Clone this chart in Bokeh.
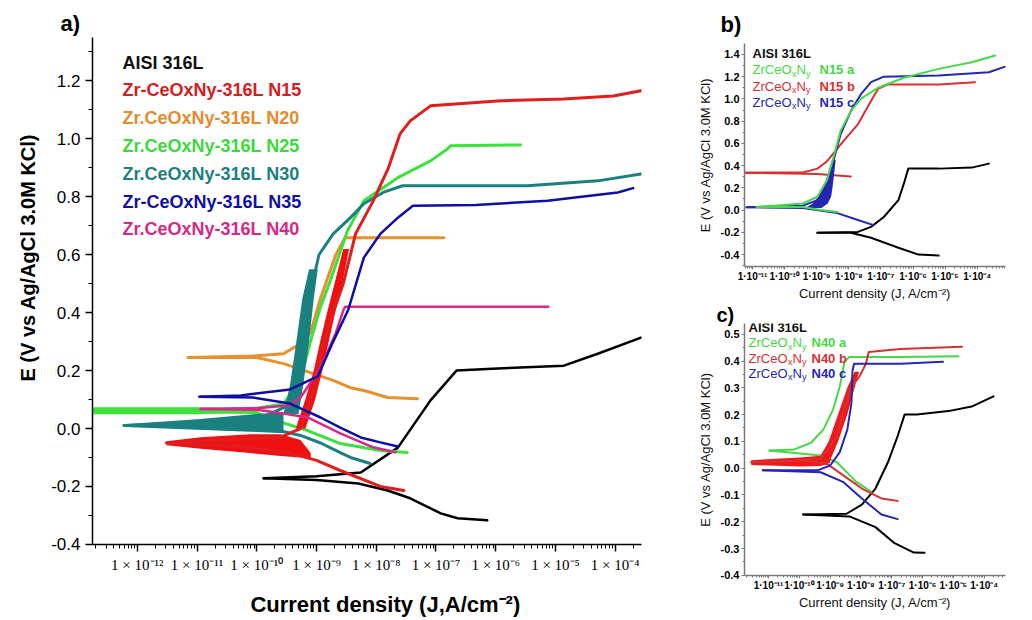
from bokeh.plotting import figure
from bokeh.models import Label, Title, Range1d, FixedTicker, SingleIntervalTicker, PrintfTickFormatter, CustomJSTickFormatter
from bokeh.layouts import row, column
from bokeh.embed import file_html
from bokeh.resources import INLINE

# ---------------- Panel a data (J in A/cm2, E in V) ----------------
a_316_cat_J = [1.3e-10, 1.0e-9, 5.0e-9, 1.55e-8, 3.7e-8, 1.2e-7, 2.3e-7, 7.2e-7]
a_316_cat_E = [-0.172, -0.178, -0.19, -0.214, -0.241, -0.293, -0.31, -0.317]
a_316_an_J = [1.3e-10, 1.0e-9, 5.5e-9, 2.3e-8, 8.1e-8, 2.2e-7, 1.07e-6, 1.38e-5, 5.1e-5, 2.7e-4]
a_316_an_E = [-0.172, -0.165, -0.152, -0.066, 0.097, 0.2, 0.207, 0.217, 0.258, 0.314]

a_n15_cat_J = [3.1e-12, 1.15e-11, 7.8e-11, 3.6e-10, 1.0e-9, 2.5e-9, 1.17e-8, 2.9e-8]
a_n15_cat_E = [-0.05, -0.055, -0.065, -0.085, -0.11, -0.145, -0.2, -0.214]
a_n15_an_J = [3.1e-12, 7.8e-11, 2.5e-10, 5.4e-10, 8.1e-10, 1.07e-9, 1.35e-9, 1.9e-9, 2.8e-9, 3.7e-9,
              4.5e-9, 8.9e-9, 1.6e-8, 2.5e-8, 3.7e-8, 8.1e-8, 1.07e-6, 1.38e-5, 9.3e-5, 2.7e-4]
a_n15_an_E = [-0.05, -0.035, -0.03, 0.0, 0.1, 0.2, 0.3, 0.4, 0.5, 0.6,
              0.672, 0.786, 0.9, 1.017, 1.062, 1.114, 1.131, 1.138, 1.148, 1.166]
a_n15_band_J = [3.1e-12, 1.15e-11, 7.8e-11, 2.5e-10, 5.4e-10, 8.0e-10]
a_n15_band_lo = [-0.058, -0.07, -0.085, -0.095, -0.1, -0.105]
a_n15_band_hi = [-0.044, -0.03, -0.02, -0.02, -0.04, -0.085]
a_n15_rise_E = [0.0, 0.1, 0.2, 0.3, 0.4, 0.5, 0.62]
a_n15_rise_left = [4.5e-10, 6.5e-10, 9.0e-10, 1.15e-9, 1.5e-9, 2.0e-9, 2.8e-9]
a_n15_rise_right = [6.5e-10, 9.5e-10, 1.25e-9, 1.6e-9, 2.05e-9, 2.7e-9, 3.5e-9]

a_n20_cat_J = [7.1e-12, 1.0e-10, 2.8e-10, 7.9e-10, 1.9e-9, 3.7e-9, 6.2e-9, 1.55e-8, 4.9e-8]
a_n20_cat_E = [0.245, 0.245, 0.224, 0.193, 0.166, 0.141, 0.131, 0.107, 0.103]
a_n20_an_J = [7.1e-12, 8.7e-11, 2.8e-10, 5.4e-10, 7.9e-10, 1.17e-9, 2.1e-9, 3.0e-9, 1.35e-7]
a_n20_an_E = [0.245, 0.25, 0.258, 0.293, 0.33, 0.45, 0.6, 0.659, 0.659]

a_n25_cat_J = [1.82e-13, 1.0e-10, 1.9e-10, 7.1e-10, 2.5e-9, 1.17e-8, 3.3e-8]
a_n25_cat_E = [0.06, 0.055, 0.03, -0.007, -0.052, -0.076, -0.083]
a_n25_an_J = [1.82e-13, 1.0e-10, 2.8e-10, 5.4e-10, 7.9e-10, 1.17e-9, 1.7e-9, 3.3e-9, 6.2e-9,
              2.3e-8, 8.1e-8, 1.55e-7, 1.74e-7, 2.6e-6]
a_n25_an_E = [0.06, 0.07, 0.085, 0.17, 0.3, 0.42, 0.51, 0.683, 0.786,
              0.866, 0.924, 0.965, 0.976, 0.979]
a_n25_band_J = [1.82e-13, 1.0e-11, 3.0e-11, 1.0e-10]
a_n25_band_lo = [0.049, 0.049, 0.053, 0.06]
a_n25_band_hi = [0.073, 0.073, 0.071, 0.068]

a_n30_cat_J = [6.0e-13, 1.0e-10, 1.7e-10, 5.4e-10, 1.17e-9, 2.5e-9, 3.7e-9, 7.9e-9]
a_n30_cat_E = [0.01, 0.01, 0.0, -0.024, -0.05, -0.083, -0.1, -0.121]
a_n30_an_J = [6.0e-13, 1.0e-10, 3.4e-10, 4.5e-10, 5.7e-10, 7.5e-10, 1.1e-9, 1.9e-9, 3.7e-9, 6.2e-9,
              1.3e-8, 2.75e-8, 3.4e-6, 5.1e-5, 2.7e-4]
a_n30_an_E = [0.01, 0.03, 0.08, 0.15, 0.3, 0.45, 0.6, 0.672, 0.728, 0.776,
              0.815, 0.838, 0.838, 0.855, 0.879]
a_n30_band_J = [6.0e-13, 1.0e-11, 1.0e-10, 2.8e-10]
a_n30_band_lo = [0.005, -0.004, -0.012, -0.016]
a_n30_band_hi = [0.015, 0.032, 0.05, 0.056]
a_n30_rise_E = [0.05, 0.15, 0.3, 0.45, 0.55]
a_n30_rise_left = [2.8e-10, 3.6e-10, 4.6e-10, 5.8e-10, 7.5e-10]
a_n30_rise_right = [5.0e-10, 6.0e-10, 7.5e-10, 9.0e-10, 1.05e-9]

a_n35_cat_J = [1.1e-11, 8.7e-11, 3.6e-10, 1.17e-9, 2.5e-9, 5.5e-9, 1.17e-8, 2.3e-8]
a_n35_cat_E = [0.11, 0.107, 0.086, 0.038, 0.003, -0.031, -0.048, -0.062]
a_n35_an_J = [1.1e-11, 5.4e-11, 3.6e-10, 1.05e-9, 1.9e-9, 3.4e-9, 6.2e-9, 1.17e-8, 2.3e-8, 4.1e-8,
              4.6e-7, 7.4e-6, 1.1e-4, 2.0e-4]
a_n35_an_E = [0.11, 0.114, 0.135, 0.18, 0.3, 0.41, 0.59, 0.672, 0.728, 0.769,
              0.772, 0.786, 0.815, 0.83]

a_n40_cat_J = [1.15e-11, 1.0e-10, 2.8e-10, 7.1e-10, 2.5e-9, 8.9e-9, 2.1e-8]
a_n40_cat_E = [0.067, 0.065, 0.052, 0.038, -0.017, -0.065, -0.082]
a_n40_an_J = [1.15e-11, 1.0e-10, 3.6e-10, 5.4e-10, 1.17e-9, 2.1e-9, 2.8e-9, 3.0e-9, 7.6e-6]
a_n40_an_E = [0.067, 0.07, 0.08, 0.107, 0.21, 0.33, 0.407, 0.42, 0.42]

a_legend = ["AISI 316L", "Zr-CeOxNy-316L N15", "Zr.CeOxNy-316L N20", "Zr.CeOxNy-316L N25",
            "Zr.CeOxNy-316L N30", "Zr-CeOxNy-316L N35", "Zr.CeOxNy-316L N40"]

# ---------------- Panel b data ----------------
b_316_cat_J = [1.05e-9, 1.15e-8, 4.9e-8, 3.5e-7, 1.48e-6, 6.3e-6]
b_316_cat_E = [-0.204, -0.204, -0.249, -0.338, -0.4, -0.409]
b_316_an_J = [1.05e-9, 1.9e-8, 4.9e-8, 1.23e-7, 3.5e-7, 5.2e-7, 7.1e-7, 6.3e-6, 6.8e-5, 2.3e-4]
b_316_an_E = [-0.204, -0.196, -0.151, -0.062, 0.089, 0.24, 0.373, 0.373, 0.382, 0.418]

b_a_cat_J = [1.35e-11, 3.7e-10, 1.3e-9, 4.4e-9]
b_a_cat_E = [0.027, 0.027, 0.0, -0.018]
b_a_an_J = [1.35e-11, 3.7e-10, 1.05e-9, 2.1e-9, 3.3e-9, 5.5e-9, 1.15e-8, 2.35e-8, 8.1e-8, 5.2e-7,
            6.3e-6, 6.8e-5, 3.6e-4]
b_a_an_E = [0.027, 0.06, 0.12, 0.27, 0.47, 0.71, 0.89, 1.0, 1.1, 1.19, 1.27, 1.33, 1.39]

b_b_cat_J = [5.6e-12, 1.05e-9, 1.15e-8]
b_b_cat_E = [0.337, 0.325, 0.302]
b_b_an_J = [5.6e-12, 3.7e-10, 1.05e-9, 2.1e-9, 6.8e-9, 1.9e-8, 4.9e-8, 8.1e-8, 1.66e-7, 6.3e-6, 8.5e-5]
b_b_an_E = [0.337, 0.338, 0.373, 0.44, 0.62, 0.77, 0.98, 1.09, 1.13, 1.13, 1.15]

b_c_cat_J = [6.5e-12, 3.7e-10, 4.4e-9, 1.9e-8, 5.6e-8]
b_c_cat_E = [0.025, 0.018, -0.027, -0.089, -0.133]
b_c_an_J = [6.5e-12, 3.7e-10, 1.05e-9, 2.1e-9, 3.3e-9, 5.5e-9, 1.15e-8, 2.35e-8, 4.9e-8, 1.23e-7,
            6.3e-6, 2.3e-4, 7.4e-4]
b_c_an_E = [0.025, 0.04, 0.09, 0.2, 0.44, 0.68, 0.89, 1.04, 1.15, 1.2, 1.21, 1.24, 1.29]
b_c_noise_E = [0.02, 0.06, 0.12, 0.2, 0.3, 0.45]
b_c_noise_left = [4.5e-10, 7.5e-10, 1.1e-9, 1.6e-9, 2.1e-9, 3.0e-9]
b_c_noise_right = [1.4e-9, 2.2e-9, 2.8e-9, 3.1e-9, 3.4e-9, 3.9e-9]

b_tags = ["N15 a", "N15 b", "N15 c"]

# ---------------- Panel c data ----------------
c_316_cat_J = [1.33e-10, 4.2e-9, 2.95e-8, 1.23e-7, 5.2e-7, 1.15e-6]
c_316_cat_E = [-0.173, -0.18, -0.22, -0.28, -0.315, -0.316]
c_316_an_J = [1.33e-10, 3.4e-9, 1.07e-8, 2.95e-8, 7.5e-8, 1.55e-7, 2.6e-7, 6.5e-7, 6.9e-6, 3.9e-5, 2.0e-4]
c_316_an_E = [-0.173, -0.17, -0.136, -0.076, 0.022, 0.12, 0.2, 0.2, 0.213, 0.23, 0.268]

c_a_cat_J = [1.07e-11, 4.9e-10, 1.66e-9, 6.9e-9, 2.2e-8]
c_a_cat_E = [0.066, 0.047, 0.022, -0.05, -0.088]
c_a_an_J = [1.07e-11, 6.9e-11, 2.4e-10, 6.0e-10, 1.23e-9, 2.05e-9, 2.9e-9, 4.2e-9, 1.9e-7, 1.44e-5]
c_a_an_E = [0.066, 0.07, 0.095, 0.144, 0.217, 0.305, 0.397, 0.415, 0.415, 0.418]

c_b_cat_J = [2.75e-12, 1.45e-10, 8.1e-10, 2.6e-9, 1.07e-8, 4.6e-8, 1.55e-7]
c_b_cat_E = [0.022, 0.029, 0.015, -0.026, -0.076, -0.113, -0.122]
c_b_an_J = [2.75e-12, 4.9e-10, 8.1e-10, 1.66e-9, 2.6e-9, 4.9e-9, 8.7e-9, 1.45e-8, 1.78e-8, 1.9e-7, 1.9e-5]
c_b_an_E = [0.022, 0.033, 0.07, 0.12, 0.206, 0.305, 0.34, 0.39, 0.434, 0.445, 0.453]
c_b_band_J = [2.75e-12, 1.0e-10, 5.0e-10, 1.0e-9]
c_b_band_lo = [0.012, 0.006, 0.008, 0.02]
c_b_band_hi = [0.03, 0.04, 0.046, 0.055]
c_b_rise_E = [0.03, 0.1, 0.2, 0.3, 0.36]
c_b_rise_left = [4.0e-10, 9.0e-10, 1.8e-9, 3.6e-9, 6.2e-9]
c_b_rise_right = [1.0e-9, 1.8e-9, 3.6e-9, 6.2e-9, 8.7e-9]

c_c_cat_J = [6.5e-12, 4.9e-10, 2.6e-9, 1.07e-8, 4.6e-8, 1.55e-7]
c_c_cat_E = [-0.008, -0.015, -0.051, -0.113, -0.173, -0.19]
c_c_an_J = [6.5e-12, 3.9e-10, 1.0e-9, 2.05e-9, 3.6e-9, 4.9e-9, 5.3e-9, 6.0e-9, 1.9e-7, 4.6e-6]
c_c_an_E = [-0.008, -0.008, 0.01, 0.06, 0.144, 0.243, 0.364, 0.39, 0.39, 0.397]

c_tags = ["N40 a", "N40 b", "N40 c"]

# ---------------- styling ----------------
SANS = "Liberation Sans"
A_COL = {"316": "#000000", "n15": "#e11d1d", "n20": "#e8902e", "n25": "#3ee03e",
         "n30": "#1a8080", "n35": "#0e0ea6", "n40": "#d8298a"}
A_LEG_COL = ["#111111", "#d42020", "#e58a2e", "#3cd83c", "#1e7f7f", "#1010a8", "#d42a86"]
BC_GREEN, BC_RED, BC_BLUE = "#46d846", "#d63030", "#2626b4"

SUP = ("const s={'-':'\u207b','0':'\u2070','1':'\u00b9','2':'\u00b2','3':'\u00b3','4':'\u2074',"
       "'5':'\u2075','6':'\u2076','7':'\u2077','8':'\u2078','9':'\u2079'};"
       "const e=String(Math.round(Math.log10(tick)));let o='';for(const c of e){o+=s[c];}")


def decade_ticker(lo, hi):
    majors = [10.0 ** k for k in range(lo, hi + 1)]
    minors = [m * 10.0 ** k for k in range(lo - 1, hi + 1) for m in range(2, 10)]
    return FixedTicker(ticks=majors, minor_ticks=minors)


def make_fig(w, h, x0, x1, y0, y1, bl, br, bt, bb):
    p = figure(width=w, height=h, x_axis_type="log",
               x_range=Range1d(10 ** x0, 10 ** x1), y_range=Range1d(y0, y1),
               output_backend="svg", toolbar_location=None, title=None,
               min_border_left=bl, min_border_right=br, min_border_top=bt, min_border_bottom=bb)
    p.grid.visible = False
    p.outline_line_color = None
    p.background_fill_color = "white"
    p.border_fill_color = "white"
    return p


def panel_tag(p, text, offset, size="22px", standoff=4):
    p.add_layout(Title(text=text, align="left", offset=offset, text_font=SANS,
                       text_font_size=size, text_font_style="bold", text_color="black",
                       standoff=standoff), "above")


def lab(p, frame, X, Y, text, size, color, bold=False, align="left"):
    p.add_layout(Label(x=X - frame[0], y=frame[1] - Y, x_units="screen", y_units="screen",
                       text=text, text_font=SANS, text_font_size=f"{size}px", text_color=color,
                       text_font_style="bold" if bold else "normal", text_align=align,
                       text_baseline="middle"))


def curve(p, cJ, cE, aJ, aE, color, w):
    p.line(cJ, cE, line_color=color, line_width=w, line_join="round", line_cap="round")
    p.line(aJ, aE, line_color=color, line_width=w, line_join="round", line_cap="round")


# ================= Panel a =================
FA = (92, 544)
pa = make_fig(665, 620, -12.75, -3.56, -0.4005, 1.35, 92, 24, 37, 76)
pa.xaxis.ticker = decade_ticker(-12, -4)
pa.xaxis.formatter = CustomJSTickFormatter(code=SUP + "return '1 \u00d7 10'+o;")
pa.xaxis.major_label_text_font = "Liberation Serif"
pa.xaxis.major_label_text_font_size = "15px"
pa.xaxis.major_label_standoff = 5
pa.yaxis.ticker = SingleIntervalTicker(interval=0.2, num_minor_ticks=2)
pa.yaxis.formatter = PrintfTickFormatter(format="%.1f")
pa.yaxis.major_label_text_font = SANS
pa.yaxis.major_label_text_font_size = "17px"
pa.yaxis.major_label_standoff = 5
for ax in (pa.xaxis, pa.yaxis):
    ax.axis_line_color = "black"
    ax.axis_line_width = 1.5
    ax.major_tick_line_color = "black"
    ax.minor_tick_line_color = "black"
    ax.major_tick_line_width = 1.5
    ax.major_tick_out = 7
    ax.major_tick_in = 0
    ax.minor_tick_out = 4
    ax.minor_tick_in = 0
    ax.major_label_text_color = "black"
    ax.axis_label_text_font = SANS
    ax.axis_label_text_font_style = "bold"
    ax.axis_label_text_color = "black"
pa.xaxis.axis_label = "\u00a0\u00a0\u00a0\u00a0\u00a0\u00a0Current density (J,A/cm\u207b\u00b2)"
pa.xaxis.axis_label_text_font_size = "22px"
pa.xaxis.axis_label_standoff = 16
pa.yaxis.axis_label = "\u00a0" * 12 + "E (V vs Ag/AgCl 3.0M KCl)"
pa.yaxis.axis_label_text_font_size = "20px"
pa.yaxis.axis_label_standoff = 9

curve(pa, a_316_cat_J, a_316_cat_E, a_316_an_J, a_316_an_E, A_COL["316"], 2.5)
curve(pa, a_n20_cat_J, a_n20_cat_E, a_n20_an_J, a_n20_an_E, A_COL["n20"], 3)
pa.varea(x=a_n25_band_J, y1=a_n25_band_lo, y2=a_n25_band_hi, fill_color=A_COL["n25"])
curve(pa, a_n25_cat_J, a_n25_cat_E, a_n25_an_J, a_n25_an_E, A_COL["n25"], 3)
pa.varea(x=a_n30_band_J, y1=a_n30_band_lo, y2=a_n30_band_hi, fill_color=A_COL["n30"])
pa.harea(y=a_n30_rise_E, x1=a_n30_rise_left, x2=a_n30_rise_right, fill_color=A_COL["n30"])
curve(pa, a_n30_cat_J, a_n30_cat_E, a_n30_an_J, a_n30_an_E, A_COL["n30"], 3)
pa.varea(x=a_n15_band_J, y1=a_n15_band_lo, y2=a_n15_band_hi, fill_color="#f01010")
pa.harea(y=a_n15_rise_E, x1=a_n15_rise_left, x2=a_n15_rise_right, fill_color="#f01010")
curve(pa, a_n15_cat_J, a_n15_cat_E, a_n15_an_J, a_n15_an_E, A_COL["n15"], 3)
curve(pa, a_n40_cat_J, a_n40_cat_E, a_n40_an_J, a_n40_an_E, A_COL["n40"], 2.5)
curve(pa, a_n35_cat_J, a_n35_cat_E, a_n35_an_J, a_n35_an_E, A_COL["n35"], 2.5)

for i, (t, c) in enumerate(zip(a_legend, A_LEG_COL)):
    lab(pa, FA, 122, 62 + i * 27.8, t, 18, c, bold=True)
panel_tag(pa, "a)", -32)


# ================= Panels b, c common =================
def style_small(p, lo, hi, interval):
    p.xaxis.ticker = decade_ticker(lo, hi)
    p.xaxis.formatter = CustomJSTickFormatter(code=SUP + "return '1\u00b710'+o;")
    p.xaxis.major_label_text_font = SANS
    p.xaxis.major_label_text_font_size = "10px"
    p.xaxis.major_label_text_font_style = "bold"
    p.xaxis.major_label_standoff = 1
    p.yaxis.ticker = SingleIntervalTicker(interval=interval, num_minor_ticks=2)
    p.yaxis.formatter = PrintfTickFormatter(format="%.1f")
    p.yaxis.major_label_text_font = SANS
    p.yaxis.major_label_text_font_size = "11px"
    p.yaxis.major_label_text_font_style = "bold"
    p.yaxis.major_label_standoff = 2
    for ax in (p.xaxis, p.yaxis):
        ax.axis_line_color = "#7a7a7a"
        ax.axis_line_width = 1.5
        ax.major_tick_line_color = "#7a7a7a"
        ax.minor_tick_line_color = "#7a7a7a"
        ax.major_tick_out = 3
        ax.major_tick_in = 0
        ax.minor_tick_out = 2
        ax.minor_tick_in = 0
        ax.major_label_text_color = "black"
        ax.axis_label_text_font = SANS
        ax.axis_label_text_font_size = "13px"
        ax.axis_label_text_font_style = "normal"
        ax.axis_label_text_color = "#111111"
    p.xaxis.axis_label = "Current density (J, A/cm\u207b\u00b2)"
    p.yaxis.axis_label = "E (V vs Ag/AgCl 3.0M KCl)"
    p.yaxis.axis_label_standoff = 5
    p.xaxis.axis_label_standoff = 1


def chem_legend(p, frame, X, Y0, dy, tags, colors, tag_dx):
    lab(p, frame, X, Y0, "AISI 316L", 13, "#111111", bold=True)
    for i, (t, c) in enumerate(zip(tags, colors)):
        Y = Y0 + dy * (i + 1)
        lab(p, frame, X, Y, "ZrCeO", 13, c)
        lab(p, frame, X + 39.5, Y + 4, "x", 9, c)
        lab(p, frame, X + 44, Y, "N", 13, c)
        lab(p, frame, X + 53.5, Y + 4, "y", 9, c)
        lab(p, frame, X + tag_dx, Y, t, 13, c, bold=True)


# ================= Panel b =================
FB = (744, 267)
pb = make_fig(367, 303, -11.25, -3.12, -0.507, 1.498, 79, 27, 43, 36)
style_small(pb, -11, -3, 0.2)
curve(pb, b_316_cat_J, b_316_cat_E, b_316_an_J, b_316_an_E, "black", 2)
curve(pb, b_b_cat_J, b_b_cat_E, b_b_an_J, b_b_an_E, BC_RED, 2)
pb.harea(y=b_c_noise_E, x1=b_c_noise_left, x2=b_c_noise_right, fill_color=BC_BLUE)
curve(pb, b_c_cat_J, b_c_cat_E, b_c_an_J, b_c_an_E, BC_BLUE, 2)
curve(pb, b_a_cat_J, b_a_cat_E, b_a_an_J, b_a_an_E, BC_GREEN, 2)
chem_legend(pb, FB, 752, 54, 16.3, b_tags, [BC_GREEN, BC_RED, BC_BLUE], 67)
panel_tag(pb, "b)", -24, standoff=14)

# ================= Panel c =================
FC = (741, 575)
pc = make_fig(367, 317, -11.78, -3.31, -0.4005, 0.54, 76, 20, 17, 45)
style_small(pc, -11, -4, 0.1)
curve(pc, c_316_cat_J, c_316_cat_E, c_316_an_J, c_316_an_E, "black", 2)
curve(pc, c_a_cat_J, c_a_cat_E, c_a_an_J, c_a_an_E, BC_GREEN, 2)
pc.varea(x=c_b_band_J, y1=c_b_band_lo, y2=c_b_band_hi, fill_color="#f01818")
pc.harea(y=c_b_rise_E, x1=c_b_rise_left, x2=c_b_rise_right, fill_color="#f01818")
curve(pc, c_b_cat_J, c_b_cat_E, c_b_an_J, c_b_an_E, BC_RED, 2)
curve(pc, c_c_cat_J, c_c_cat_E, c_c_an_J, c_c_an_E, BC_BLUE, 2)
chem_legend(pc, FC, 745, 327, 15.3, c_tags, [BC_GREEN, BC_RED, BC_BLUE], 63)
panel_tag(pc, "c)", -28, size="20px", standoff=-4)

layout = row(pa, column(pb, pc))
open("out.html", "w").write(file_html(layout, INLINE))
